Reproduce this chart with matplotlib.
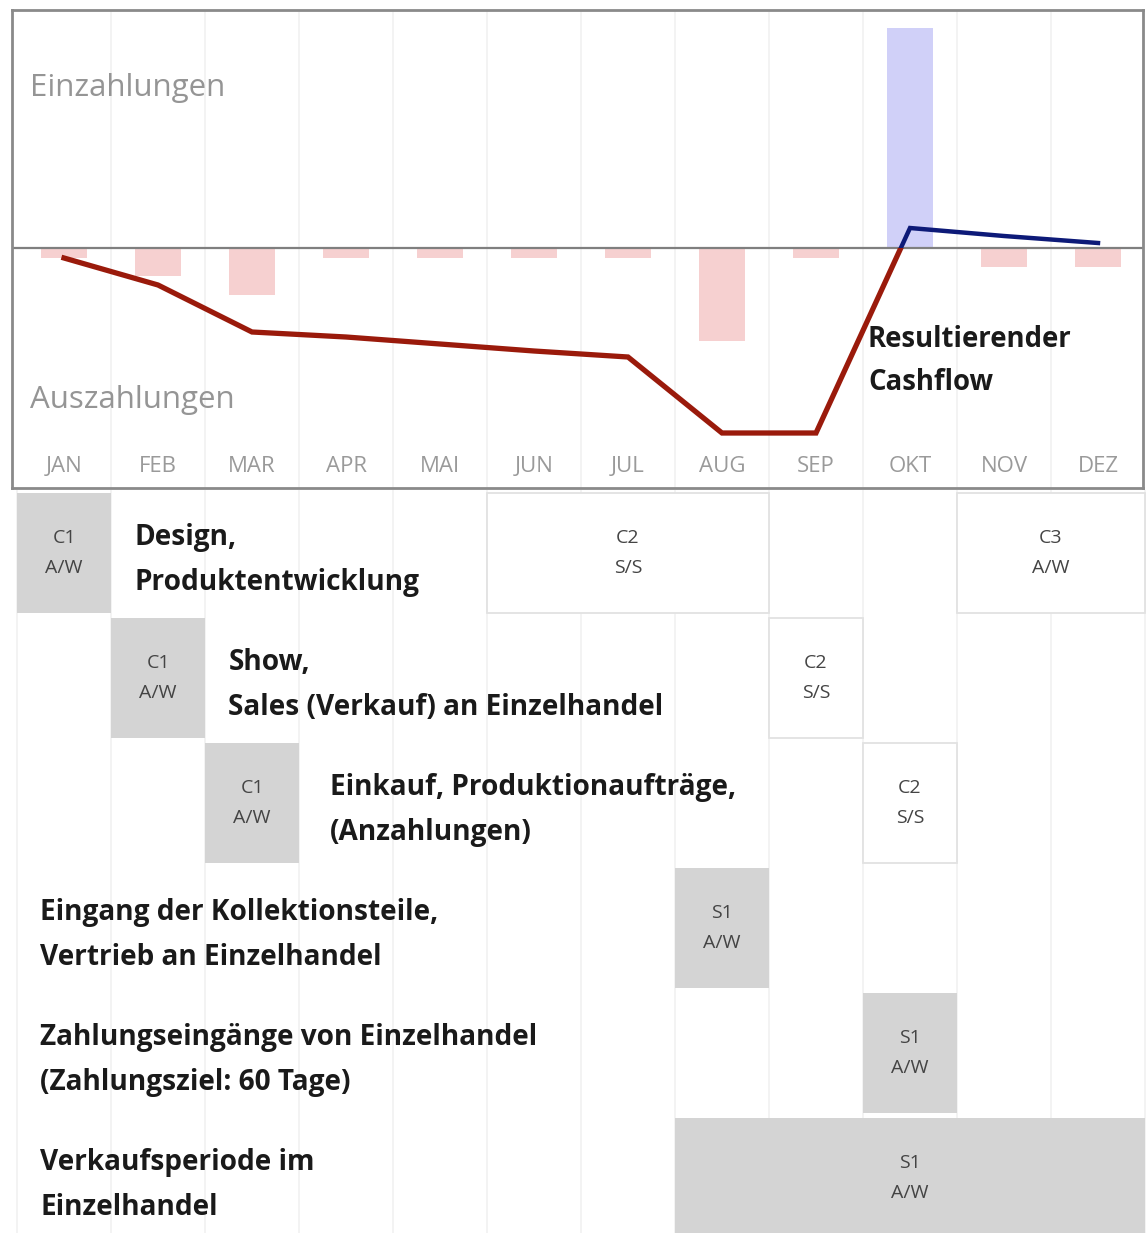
import matplotlib.pyplot as plt
from matplotlib.patches import Rectangle

plt.rcParams['font.family'] = ['Open Sans', 'DejaVu Sans']

# cashflow data (top chart), values in relative units
months = ['JAN', 'FEB', 'MAR', 'APR', 'MAI', 'JUN', 'JUL', 'AUG', 'SEP', 'OKT', 'NOV', 'DEZ']
einzahlungen = [0, 0, 0, 0, 0, 0, 0, 0, 0, 220, 0, 0]
auszahlungen = [-10, -28, -47, -10, -10, -10, -10, -93, -10, 0, -19, -19]
cashflow = [-10, -37, -84, -89, -96, -103, -109, -185, -185, 20, 12, 5]

# gantt phases (row, first month, number of months, label, filled)
phase_row = [0, 0, 0, 1, 1, 2, 2, 3, 4, 5]
phase_start = [0, 5, 10, 1, 8, 2, 9, 7, 9, 7]
phase_len = [1, 3, 2, 1, 1, 1, 1, 1, 1, 5]
phase_label = ['C1\nA/W', 'C2\nS/S', 'C3\nA/W', 'C1\nA/W', 'C2\nS/S',
               'C1\nA/W', 'C2\nS/S', 'S1\nA/W', 'S1\nA/W', 'S1\nA/W']
phase_filled = [True, False, False, True, False, True, False, True, True, True]

# task descriptions per row (text starts at month position)
task_text = ['Design,\nProduktentwicklung',
             'Show,\nSales (Verkauf) an Einzelhandel',
             'Einkauf, Produktionaufträge,\n(Anzahlungen)',
             'Eingang der Kollektionsteile,\nVertrieb an Einzelhandel',
             'Zahlungseingänge von Einzelhandel\n(Zahlungsziel: 60 Tage)',
             'Verkaufsperiode im\nEinzelhandel']
task_x = [1.25, 2.25, 3.33, 0.245, 0.245, 0.245]

W, H = 1147, 1233
fig = plt.figure(figsize=(W / 100, H / 100), dpi=100)

col0, colw = 17, 94.0  # pixel of month boundary 0, month width in px


def px2x(p):
    return (p - col0) / colw


grid_col = '#f1f1f1'

# ---- top chart ----
ax = fig.add_axes([12 / W, 1 - 488 / H, (1143 - 12) / W, (488 - 10) / H])
ax.set_xlim(px2x(12), px2x(1143))
ax.set_ylim(-240, 238)
for b in range(1, 12):
    ax.axvline(b, color=grid_col, lw=1.2, zorder=0)

xc = [i + 0.5 for i in range(12)]
ax.bar(xc, auszahlungen, width=0.48, color='#f6d0d0', zorder=1)
ax.bar(xc, einzahlungen, width=0.48, color='#d0d0f8', zorder=1)
ax.axhline(0, color='#7f7f7f', lw=1.6, zorder=2)

red, = ax.plot(xc, cashflow, color='#9a1a0b', lw=3.8, zorder=3, solid_joinstyle='miter')
blue, = ax.plot(xc, cashflow, color='#0d1a78', lw=3.2, zorder=3, solid_joinstyle='miter')
red.set_clip_path(Rectangle((-1, -300), 20, 300, transform=ax.transData))
blue.set_clip_path(Rectangle((-1, 0), 20, 300, transform=ax.transData))

for i, m in enumerate(months):
    ax.text(i + 0.5, -218, m, ha='center', va='center', fontsize=16, color='#9a9a9a')

ax.text(px2x(30), 160, 'Einzahlungen', ha='left', va='center', fontsize=22.5, color='#959595')
ax.text(px2x(30), -152, 'Auszahlungen', ha='left', va='center', fontsize=22.5, color='#959595')
ax.text(px2x(868), -113, 'Resultierender\nCashflow', ha='left', va='center',
        fontsize=19.8, fontweight='bold', color='#1a1a1a', linespacing=1.68)

ax.set_xticks([])
ax.set_yticks([])
for s in ax.spines.values():
    s.set_color('#8a8a8a')
    s.set_linewidth(2)

# ---- gantt part ----
row0, rowh = 493, 125.0
gx = fig.add_axes([0, 0, 1, 1 - 490 / H])
gx.set_xlim(px2x(0), px2x(W))
gx.set_ylim((H - row0) / rowh, (490 - row0) / rowh)
gx.axis('off')
for b in range(0, 13):
    gx.axvline(b, color=grid_col, lw=1.2, zorder=0)

for r, s, n, lab, filled in zip(phase_row, phase_start, phase_len, phase_label, phase_filled):
    if filled:
        gx.add_patch(Rectangle((s, r), n, 0.96, facecolor='#d4d4d4', edgecolor='none', zorder=1))
    else:
        gx.add_patch(Rectangle((s, r), n, 0.96, facecolor='white', edgecolor='#e2e2e2',
                               lw=1.3, zorder=1))
    gx.text(s + n / 2, r + 0.48, lab, ha='center', va='center', fontsize=14,
            color='#444444', linespacing=1.8, zorder=2)

for r, (t, x) in enumerate(zip(task_text, task_x)):
    gx.text(x, r + 0.535, t, ha='left', va='center', fontsize=20.2, fontweight='bold',
            color='#1a1a1a', linespacing=1.7, zorder=2)

plt.savefig('out.png', dpi=100)
